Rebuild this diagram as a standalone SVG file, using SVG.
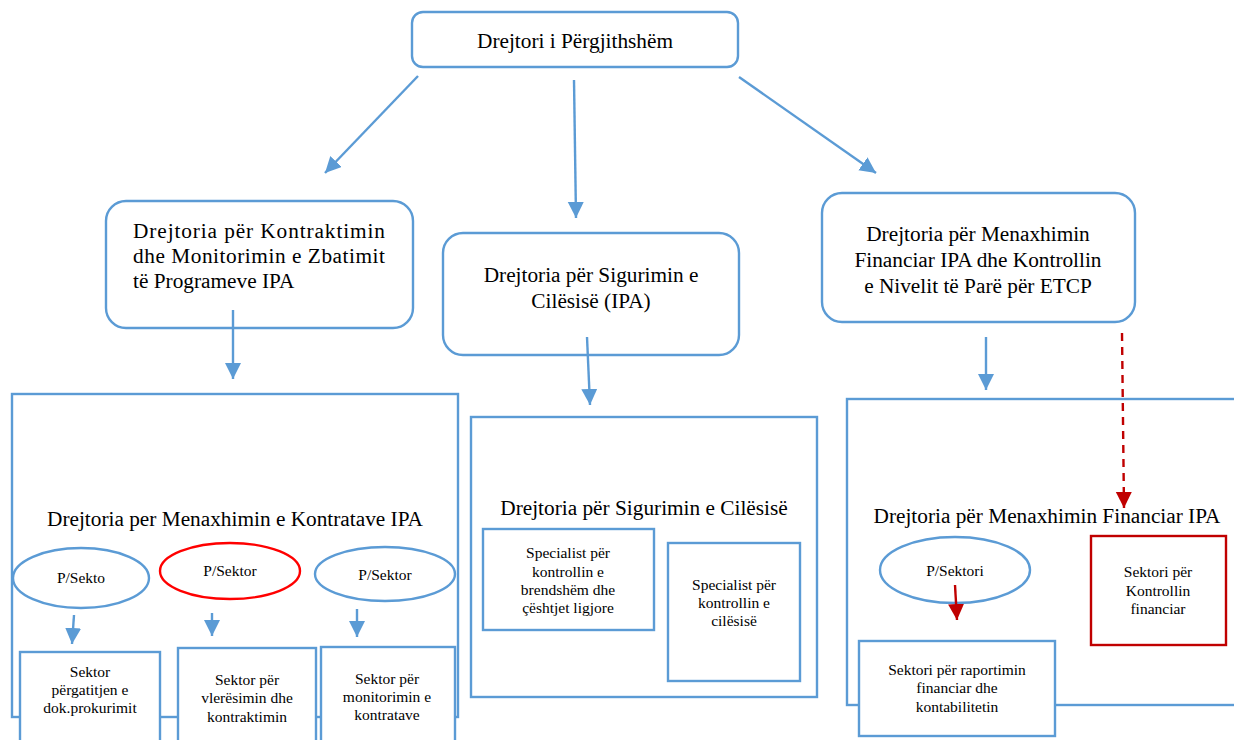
<svg xmlns="http://www.w3.org/2000/svg" width="1234" height="740" viewBox="0 0 1234 740" font-family="'Liberation Serif', 'Times New Roman', 'DejaVu Serif', serif">
<style>
text{font-family:"Liberation Serif","Times New Roman","DejaVu Serif",serif;fill:#000}
.b{fill:#fff;stroke:#5b9bd5;stroke-width:2.4}
.r{fill:#fff;stroke:#c00000;stroke-width:2.4}
.t18{font-size:21.3px}
.t19{font-size:21.3px}
.t13{font-size:15.5px}
.c{text-anchor:middle}
.cb{stroke:#5b9bd5;stroke-width:2.4;fill:none}
.cr{stroke:#c00000;stroke-width:2.4;fill:none}
</style>
<defs>
<marker id="ab" markerUnits="userSpaceOnUse" markerWidth="18" markerHeight="18" refX="16" refY="8" orient="auto"><path d="M0,0 L16,8 L0,16 z" fill="#5b9bd5"/></marker>
<marker id="ar" markerUnits="userSpaceOnUse" markerWidth="18" markerHeight="18" refX="16" refY="8" orient="auto"><path d="M0,0 L16,8 L0,16 z" fill="#c00000"/></marker>
</defs>
<rect width="1234" height="740" fill="#fff"/>

<g id="n-top"><rect class="b" x="412" y="12" width="326" height="55" rx="11"/><text class="t18 c" x="575" y="48">Drejtori i Përgjithshëm</text></g>

<g id="n-kontrakt"><rect class="b" x="106" y="201" width="307" height="127" rx="20"/>
<text class="t18" x="133" y="238" textLength="252" lengthAdjust="spacing">Drejtoria për Kontraktimin</text>
<text class="t18" x="133" y="263" textLength="252" lengthAdjust="spacing">dhe Monitorimin e Zbatimit</text>
<text class="t18" x="133" y="288">të Programeve IPA</text></g>

<g id="n-sigurim"><rect class="b" x="443" y="233" width="296" height="122" rx="20"/>
<text class="t18 c" x="591" y="282">Drejtoria për Sigurimin e</text>
<text class="t18 c" x="591" y="308">Cilësisë (IPA)</text></g>

<g id="n-financ"><rect class="b" x="822" y="193" width="313" height="129" rx="20"/>
<text class="t18 c" x="978" y="241">Drejtoria për Menaxhimin</text>
<text class="t18 c" x="978" y="267">Financiar IPA dhe Kontrollin</text>
<text class="t18 c" x="978" y="293">e Nivelit të Parë për ETCP</text></g>

<g id="n-menkontr"><rect class="b" x="12" y="394" width="446" height="323"/>
<text class="t19 c" x="235" y="526">Drejtoria per Menaxhimin e Kontratave IPA</text></g>

<g id="n-sigcil"><rect class="b" x="471" y="417" width="346" height="280"/>
<text class="t19 c" x="644" y="515">Drejtoria për Sigurimin e Cilësisë</text></g>

<g id="n-menfin"><rect class="b" x="847" y="399" width="400" height="306"/>
<text class="t19 c" x="1047" y="523">Drejtoria për Menaxhimin Financiar IPA</text></g>

<g id="n-ps1"><ellipse class="b" cx="81" cy="578" rx="68" ry="30"/><text class="t13 c" x="81" y="583">P/Sekto</text></g>
<g id="n-ps2"><ellipse cx="230" cy="571" rx="70" ry="28" fill="#fff" stroke="#ff0000" stroke-width="2.4"/><text class="t13 c" x="230" y="576">P/Sektor</text></g>
<g id="n-ps3"><ellipse class="b" cx="385" cy="574" rx="70" ry="27"/><text class="t13 c" x="385" y="580">P/Sektor</text></g>
<g id="n-ps4"><ellipse class="b" cx="955" cy="570" rx="75" ry="33"/><text class="t13 c" x="955" y="576">P/Sektori</text></g>

<g id="n-s1"><rect class="b" x="20" y="652" width="140" height="100"/>
<text class="t13 c" x="90" y="677">Sektor</text><text class="t13 c" x="90" y="695">përgatitjen e</text><text class="t13 c" x="90" y="713">dok.prokurimit</text></g>
<g id="n-s2"><rect class="b" x="178" y="648" width="138" height="104"/>
<text class="t13 c" x="247" y="685">Sektor për</text><text class="t13 c" x="247" y="703">vlerësimin dhe</text><text class="t13 c" x="247" y="722">kontraktimin</text></g>
<g id="n-s3"><rect class="b" x="321" y="647" width="134" height="105"/>
<text class="t13 c" x="387" y="684">Sektor për</text><text class="t13 c" x="387" y="702">monitorimin e</text><text class="t13 c" x="387" y="720">kontratave</text></g>

<g id="n-sp1"><rect class="b" x="483" y="529" width="171" height="101"/>
<text class="t13 c" x="568" y="558">Specialist për</text><text class="t13 c" x="568" y="577">kontrollin e</text><text class="t13 c" x="568" y="595">brendshëm dhe</text><text class="t13 c" x="568" y="613">çështjet ligjore</text></g>
<g id="n-sp2"><rect class="b" x="668" y="543" width="132" height="138"/>
<text class="t13 c" x="734" y="590">Specialist për</text><text class="t13 c" x="734" y="608">kontrollin e</text><text class="t13 c" x="734" y="626">cilësisë</text></g>

<g id="n-rap"><rect class="b" x="859" y="641" width="196" height="95"/>
<text class="t13 c" x="957" y="675">Sektori për raportimin</text><text class="t13 c" x="957" y="693">financiar dhe</text><text class="t13 c" x="957" y="712">kontabilitetin</text></g>
<g id="n-kf"><rect class="r" x="1091" y="536" width="135" height="109"/>
<text class="t13 c" x="1158" y="577">Sektori për</text><text class="t13 c" x="1158" y="596">Kontrollin</text><text class="t13 c" x="1158" y="614">financiar</text></g>

<g id="connectors">
<line class="cb" x1="418" y1="76" x2="325" y2="173" marker-end="url(#ab)"/>
<line class="cb" x1="574" y1="80" x2="576" y2="218" marker-end="url(#ab)"/>
<line class="cb" x1="739" y1="77" x2="876" y2="173" marker-end="url(#ab)"/>
<line class="cb" x1="233" y1="310" x2="233" y2="379" marker-end="url(#ab)"/>
<line class="cb" x1="587" y1="337" x2="590" y2="405" marker-end="url(#ab)"/>
<line class="cb" x1="986" y1="337" x2="986" y2="390" marker-end="url(#ab)"/>
<line class="cr" x1="1122" y1="333" x2="1124" y2="508" stroke-dasharray="8,6" marker-end="url(#ar)"/>
<line class="cb" x1="74" y1="615" x2="72" y2="644" marker-end="url(#ab)"/>
<line class="cb" x1="212" y1="613" x2="212" y2="636" marker-end="url(#ab)"/>
<line class="cb" x1="357" y1="609" x2="357" y2="637" marker-end="url(#ab)"/>
<line class="cr" x1="955" y1="585" x2="957" y2="620" marker-end="url(#ar)"/>
</g>
</svg>
